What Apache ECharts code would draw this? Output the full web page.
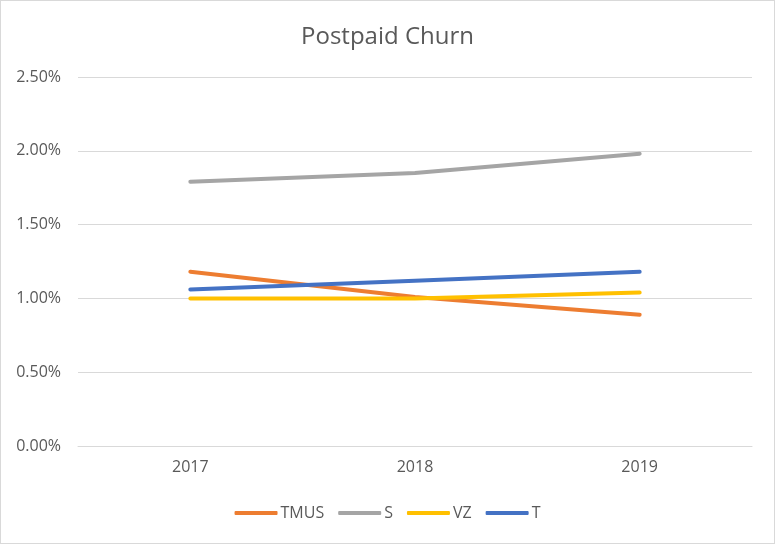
<!DOCTYPE html>
<html>
<head>
<meta charset="utf-8">
<script src="https://cdn.jsdelivr.net/npm/echarts@6/dist/echarts.min.js"></script>
<style>
html,body{margin:0;padding:0;background:#fff;}
#c{width:773px;height:542px;border:1px solid #d9d9d9;}
</style>
</head>
<body>
<div id="c"></div>
<script>
const categories = ['2017', '2018', '2019'];
const seriesNames = ['TMUS', 'S', 'VZ', 'T'];
const tmus = [1.18, 1.01, 0.89];
const s = [1.79, 1.85, 1.98];
const vz = [1.00, 1.00, 1.04];
const t = [1.06, 1.12, 1.18];
const yTicks = [0, 0.5, 1.0, 1.5, 2.0, 2.5];
const colors = ['#ED7D31', '#A5A5A5', '#FFC000', '#4472C4'];
const values = [tmus, s, vz, t];

const chart = echarts.init(document.getElementById('c'), null, {renderer: 'canvas'});
const font = 'Open Sans, Noto Sans, sans-serif';
chart.setOption({
  animation: false,
  color: colors,
  title: {
    text: 'Postpaid Churn', left: 'center', top: 19,
    textStyle: {fontFamily: font, fontSize: 24, fontWeight: 'normal', color: '#595959'}
  },
  legend: {
    bottom: 17, left: 'center', itemWidth: 43, itemHeight: 4, itemGap: 14, icon: 'roundRect',
    textStyle: {fontFamily: font, fontSize: 16, color: '#595959', padding: [0,0,0,-2]},
    data: seriesNames
  },
  grid: {left: 77, right: 22, top: 76, bottom: 97},
  xAxis: {
    type: 'category', data: categories, boundaryGap: true,
    axisLine: {lineStyle: {color: '#d9d9d9'}},
    axisTick: {show: false},
    axisLabel: {fontFamily: font, fontSize: 16, color: '#595959', margin: 13}
  },
  yAxis: {
    type: 'value', min: yTicks[0], max: yTicks[yTicks.length-1], interval: 0.5,
    axisLine: {show: false}, axisTick: {show: false},
    splitLine: {lineStyle: {color: '#d9d9d9'}},
    axisLabel: {fontFamily: font, fontSize: 16, color: '#595959', margin: 17,
      formatter: v => v.toFixed(2) + '%'}
  },
  series: seriesNames.map((n, i) => ({
    name: n, type: 'line', data: values[i], symbol: 'none', showSymbol: false,
    lineStyle: {width: 4, color: colors[i], cap: 'round'}
  }))
});
</script>
</body>
</html>
